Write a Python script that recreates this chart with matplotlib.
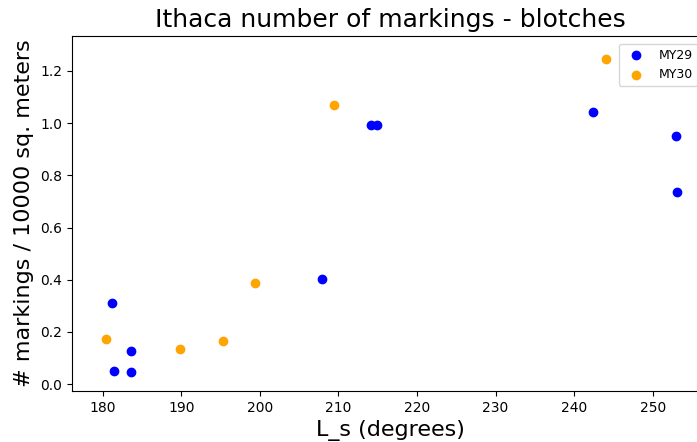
import matplotlib
matplotlib.use("Agg")
import matplotlib.pyplot as plt

# Ithaca blotch counts
ls_my29 = [181.2, 181.4, 183.6, 183.6, 207.9, 214.2, 214.9, 242.4, 252.9, 253.1]
n_my29 = [0.311, 0.051, 0.127, 0.045, 0.403, 0.993, 0.993, 1.041, 0.950, 0.735]

ls_my30 = [180.4, 189.8, 195.3, 199.4, 209.4, 244.0]
n_my30 = [0.174, 0.136, 0.164, 0.386, 1.069, 1.247]

fig = plt.figure(figsize=(6.97, 4.42), dpi=100)
# the original figure was cropped on the right, so the axes run past the edge
ax = fig.add_axes([0.1029, 0.1154, 0.9148, 0.804])

ax.scatter(ls_my29, n_my29, color='blue', label='MY29')
ax.scatter(ls_my30, n_my30, color='orange', label='MY30')

ax.set_xlim(176.06, 257.2)
ax.set_ylim(-0.026, 1.335)

ax.set_title('Ithaca number of markings - blotches', fontsize=18)
ax.set_xlabel('L_s (degrees)', fontsize=16)
ax.set_ylabel('# markings / 10000 sq. meters', fontsize=16)
ax.legend(loc='upper right', bbox_to_anchor=(0.992, 0.995), fontsize=9)

fig.savefig('out.png', dpi=100)
